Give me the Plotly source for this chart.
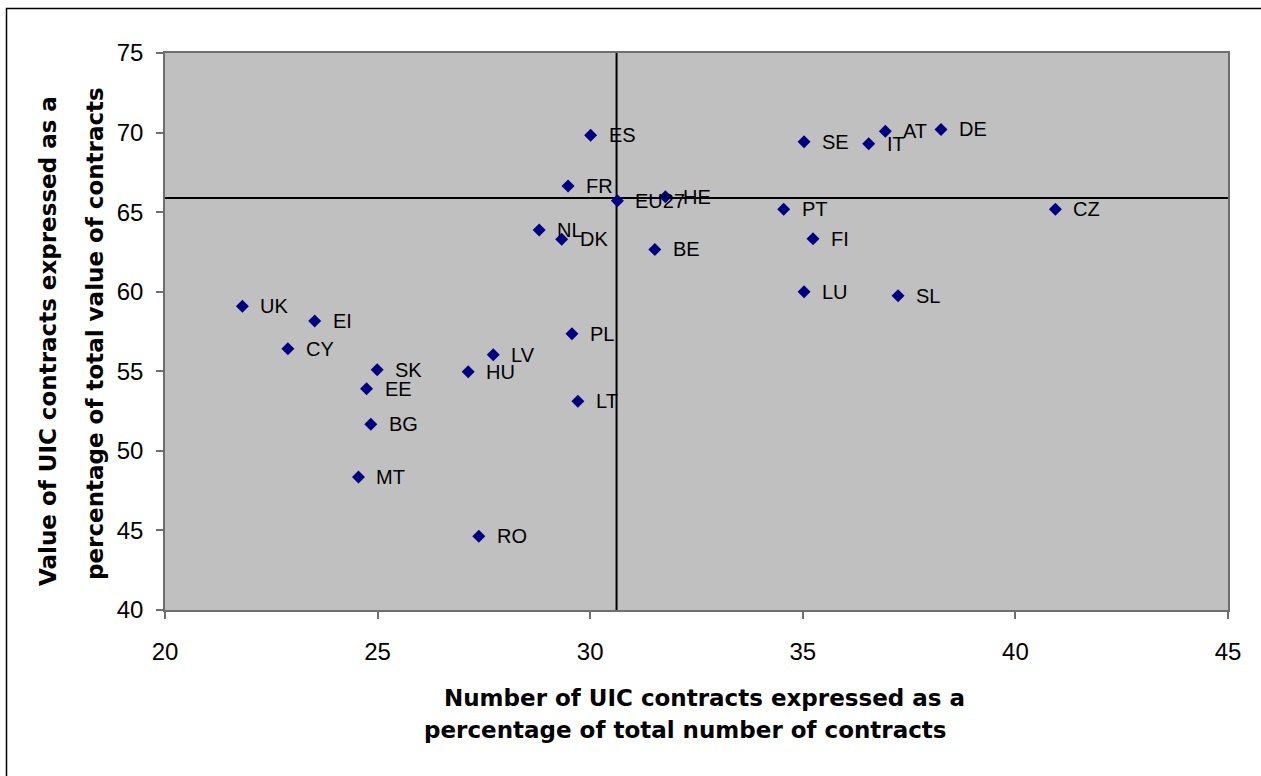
import plotly.graph_objects as go

# Share of UIC contracts by number (x) and by value (y), per country
countries = ["UK", "EI", "CY", "SK", "EE", "BG", "MT", "RO", "HU", "LV", "PL", "LT",
             "NL", "DK", "FR", "ES", "EU27", "HE", "BE", "PT", "SE", "LU", "FI", "IT",
             "AT", "SL", "DE", "CZ"]
pct_number = [21.82, 23.52, 22.89, 24.99, 24.74, 24.84, 24.55, 27.38, 27.13, 27.72, 29.57, 29.71,
              28.80, 29.33, 29.48, 30.01, 30.64, 31.77, 31.52, 34.55, 35.03, 35.03, 35.24, 36.55,
              36.94, 37.24, 38.25, 40.94]
pct_value = [59.08, 58.16, 56.42, 55.10, 53.91, 51.67, 48.36, 44.63, 54.97, 56.04, 57.36, 53.11,
             63.88, 63.29, 66.64, 69.83, 65.72, 65.97, 62.66, 65.18, 69.43, 60.00, 63.33, 69.30,
             70.08, 59.75, 70.20, 65.18]

# EU27 reference cross-hair
ref_number = 30.62
ref_value = 65.89

x_ticks = [20, 25, 30, 35, 40, 45]
y_ticks = [40, 45, 50, 55, 60, 65, 70, 75]

W, H = 1261, 776
L, R, T, B = 165, 33, 53, 166
pw, ph = W - L - R, H - T - B


def px_x(p):
    return (p - L) / pw


def px_y(p):
    return (H - B - p) / ph


FONT = "Liberation Sans, Arial, sans-serif"
BOLD = "DejaVu Sans, Arial, sans-serif"

fig = go.Figure()
fig.add_trace(go.Scatter(
    x=pct_number, y=pct_value, mode="markers",
    marker=dict(symbol="diamond", size=10, color="#000080"),
    hoverinfo="text", text=countries, showlegend=False,
))

annotations = []
for name, xv, yv in zip(countries, pct_number, pct_value):
    annotations.append(dict(
        x=xv, y=yv, xref="x", yref="y", text=name, showarrow=False,
        xanchor="left", yanchor="middle", xshift=17, borderpad=0,
        font=dict(family=FONT, size=20, color="black"),
    ))

# axis titles, one annotation per line
title_font = dict(family=BOLD, size=23, color="black", weight="bold")
annotations += [
    dict(x=px_x(704), y=px_y(698), xref="paper", yref="paper", showarrow=False,
         text="Number of UIC contracts expressed as a", xanchor="center", yanchor="middle",
         font=title_font),
    dict(x=px_x(685), y=px_y(730), xref="paper", yref="paper", showarrow=False,
         text="percentage of total number of contracts", xanchor="center", yanchor="middle",
         font=title_font),
    dict(x=px_x(48), y=px_y(341), xref="paper", yref="paper", showarrow=False,
         text="Value of UIC contracts expressed as a", xanchor="center", yanchor="middle",
         textangle=-90, font=title_font),
    dict(x=px_x(95), y=px_y(334), xref="paper", yref="paper", showarrow=False,
         text="percentage of total value of contracts", xanchor="center", yanchor="middle",
         textangle=-90, font=title_font),
]

shapes = [
    dict(type="line", xref="x", yref="paper", x0=ref_number, x1=ref_number, y0=0, y1=1,
         line=dict(color="black", width=2), layer="below"),
    dict(type="line", xref="paper", yref="y", x0=0, x1=1, y0=ref_value, y1=ref_value,
         line=dict(color="black", width=2), layer="below"),
    # outer chart frame
    dict(type="rect", xref="paper", yref="paper",
         x0=px_x(6.5), x1=px_x(1290), y0=px_y(800), y1=px_y(8.5),
         line=dict(color="black", width=1.5), fillcolor="rgba(0,0,0,0)"),
]

axis_common = dict(
    showgrid=False, zeroline=False, showline=True, mirror=True,
    linecolor="#6e6e6e", linewidth=1.5,
    ticks="outside", ticklen=7, tickcolor="#6e6e6e", tickwidth=1.5,
    tickfont=dict(family=FONT, size=24, color="black"),
)

fig.update_layout(
    width=W, height=H,
    margin=dict(l=L, r=R, t=T, b=B, autoexpand=False),
    paper_bgcolor="white", plot_bgcolor="#C0C0C0",
    xaxis=dict(range=[20, 45], tickvals=x_ticks, ticklabelstandoff=12, **axis_common),
    yaxis=dict(range=[40, 75], tickvals=y_ticks, ticklabelstandoff=8, **axis_common),
    annotations=annotations, shapes=shapes,
)

fig.write_html("out.html")
